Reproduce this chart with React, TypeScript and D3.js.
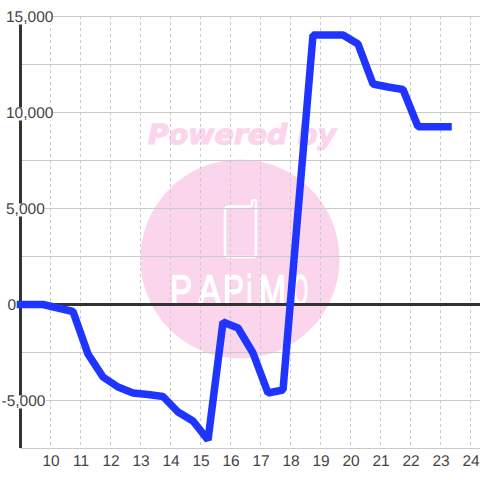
import React from "react";
import * as d3 from "d3";

const hours = [9, 9.25, 9.75, 10.25, 10.75, 11.25, 11.75, 12.25, 12.75, 13.25, 13.75, 14.25, 14.75, 15.25, 15.75, 16.25, 16.75, 17.25, 17.75, 18.25, 18.75, 19.25, 19.75, 20.25, 20.75, 21.25, 21.75, 22.25, 22.75, 23.25];
const values = [0, 0, 0, -182, -365, -2578, -3776, -4297, -4609, -4688, -4792, -5599, -6068, -7057, -911, -1224, -2526, -4609, -4453, 4818, 14036, 14036, 14036, 13568, 11484, 11328, 11198, 9260, 9260, 9260];
const xTicks = [10, 11, 12, 13, 14, 15, 16, 17, 18, 19, 20, 21, 22, 23, 24];
const yLabelled = [15000, 10000, 5000, 0, -5000];
const yMinor = [12500, 7500, 2500, -2500, -7500];
const watermarkTop = "Powered by";
const watermarkLogo = ["P", "A", "P", "i", "M", "O"];

const logoX = [170, 198, 223, 246.5, 259, 293];
const logoW = [22, 23, 21, 5.5, 27, 15];

const x = d3.scaleLinear().domain([9, 24]).range([20.5, 470.5]);
const y = d3.scaleLinear().domain([-5000, 15000]).range([400.5, 16.5]);
const line = d3
  .line<number>()
  .x((_, i) => x(hours[i]))
  .y((d) => y(d));
const fmt = d3.format(",");

const GRID = "#cacaca";
const INK = "#333333";
const TEXT = "#444444";
const BLUE = "#1f35ff";
const PINK = "#fbd5ec";

const labelBox = (v: number) => (v === 0 ? null : { x: 0, w: Math.abs(v) >= 10000 ? 53 : v < 0 ? 46 : 45 });
const labelX = (v: number) => (v === 0 ? 7.5 : v < 0 ? 1.5 : 6);

export default function App() {
  const x0 = x(9);
  return (
    <svg
      width={480}
      height={480}
      style={{ position: "absolute", left: 0, top: 0, background: "#fff" }}
      fontFamily="'Liberation Sans', Arial, sans-serif"
      textRendering="geometricPrecision"
    >
      <circle cx={240} cy={259} r={99.5} fill={PINK} />
      <text
        x={148}
        y={143.5}
        fontFamily="'DejaVu Sans', sans-serif"
        fontWeight="bold"
        fontStyle="italic"
        fontSize={27.5}
        textLength={188}
        lengthAdjust="spacingAndGlyphs"
        fill={PINK}
        stroke={PINK}
        strokeWidth={1.2}
      >
        {watermarkTop}
      </text>
      <path
        d="M229 206.5H250Q252 206.5 252 204V202Q252 200 254 200Q256 200 256 202V254Q256 257 253 257H228Q225 257 225 254V210Q225 206.5 229 206.5Z"
        fill="none"
        stroke="#fff"
        strokeWidth={2.5}
      />
      <text y={305} fontSize={43} fill="#fff" stroke="#fff" strokeWidth={1.5}>
        {watermarkLogo.map((c, i) => (
          <tspan key={i} x={logoX[i]} textLength={logoW[i]} lengthAdjust="spacingAndGlyphs">
            {c}
          </tspan>
        ))}
      </text>

      {xTicks.map((t) => (
        <line key={t} x1={x(t)} x2={x(t)} y1={16} y2={448} stroke={GRID} strokeWidth={1} strokeDasharray="3 3" />
      ))}
      {yLabelled.filter((v) => v !== 0).map((v) => (
        <line key={v} x1={x0} x2={480} y1={y(v)} y2={y(v)} stroke={GRID} />
      ))}
      {yMinor.map((v) => (
        <line key={v} x1={x0} x2={480} y1={y(v)} y2={y(v)} stroke={GRID} />
      ))}
      <line x1={x0} x2={x0} y1={16} y2={448} stroke={INK} strokeWidth={3} />
      <line x1={x0} x2={480} y1={y(0)} y2={y(0)} stroke={INK} strokeWidth={3} />

      {yLabelled.map((v) => {
        const box = labelBox(v);
        return (
          <g key={v}>
            {box && <rect x={box.x} y={y(v) - 5} width={box.w} height={13} fill="#fff" />}
            <text x={labelX(v)} y={y(v) + 5.5} fontSize={15.5} fill={TEXT}>
              {fmt(v).replace("−", "-")}
            </text>
          </g>
        );
      })}
      {xTicks.map((t) => (
        <text key={t} x={x(t) + 0.5} y={466} fontSize={15.5} fill={TEXT} textAnchor="middle">
          {t}
        </text>
      ))}

      <path
        d={line(values) ?? ""}
        fill="none"
        stroke={BLUE}
        strokeWidth={7.5}
        strokeLinejoin="bevel"
        strokeLinecap="square"
      />
    </svg>
  );
}
